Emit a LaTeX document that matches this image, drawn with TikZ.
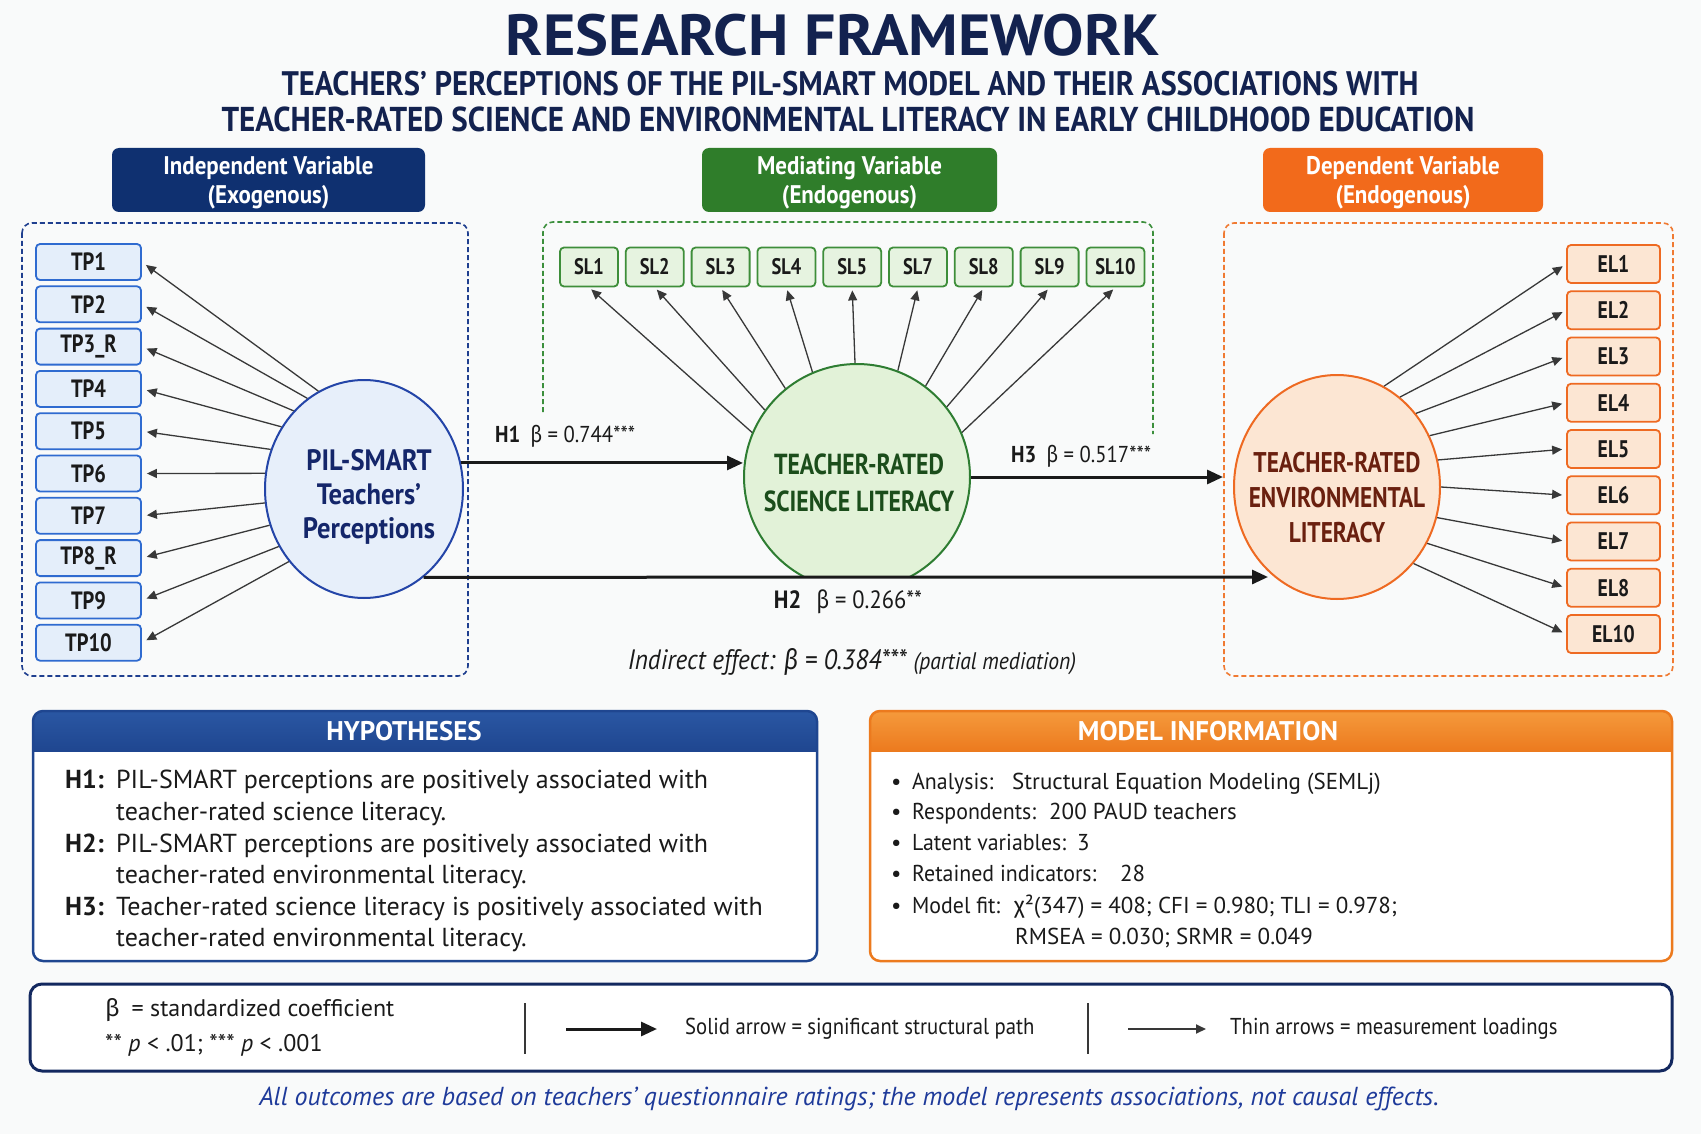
\documentclass[tikz,border=0pt]{standalone}
\usepackage{fontspec}
\setmainfont{PT Sans}
\newfontfamily\cnd{PT Sans}[FakeStretch=0.82]
\newfontfamily\cndm{PT Sans}[FakeStretch=0.9]
\newfontfamily\cndl{PT Sans}[FakeStretch=0.95]
\newfontfamily\wide{PT Sans}[FakeStretch=1.07]
\newfontfamily\grk{Fira Sans}
\newfontfamily\grkc{Fira Sans}[FakeStretch=0.85]
\usetikzlibrary{arrows.meta,shapes.geometric}
\newcommand{\fsz}[1]{\fontsize{#1}{#1}\selectfont}
\newcommand{\mybeta}{{\grkc β}}
\newcommand{\mybetaw}{{\grk β}}
\newcommand{\mychi}{{\grk χ}}
\definecolor{bg}{HTML}{F9FAFA}
\definecolor{navy}{HTML}{13224F}
\definecolor{indep}{HTML}{0F3070}
\definecolor{medg}{HTML}{2F7D2A}
\definecolor{depo}{HTML}{F26A1B}
\definecolor{indepd}{HTML}{1F3F8F}
\definecolor{medd}{HTML}{3C8F3C}
\definecolor{depd}{HTML}{F07A32}
\definecolor{tpb}{HTML}{2F6BD0}
\definecolor{tpf}{HTML}{E4EEFA}
\definecolor{pilb}{HTML}{2445A8}
\definecolor{pilf}{HTML}{E7EFFA}
\definecolor{pilt}{HTML}{14266A}
\definecolor{slb}{HTML}{3E8E3A}
\definecolor{slf}{HTML}{E6F3E0}
\definecolor{scb}{HTML}{2E7D32}
\definecolor{scf}{HTML}{E2F2D8}
\definecolor{sct}{HTML}{1B4D1B}
\definecolor{elb}{HTML}{EE6A22}
\definecolor{elf}{HTML}{FCE6D3}
\definecolor{ent}{HTML}{6A200F}
\definecolor{hypb}{HTML}{1F4690}
\definecolor{hypt}{HTML}{2A57A3}
\definecolor{modo}{HTML}{EC7A1E}
\definecolor{modt}{HTML}{F59A3C}
\definecolor{foot}{HTML}{1E3A9A}
\definecolor{arrc}{HTML}{383838}
\definecolor{txt}{HTML}{1A1A1A}
\definecolor{legb}{HTML}{13285F}
\tikzset{
  thinarr/.style={draw=arrc, line width=1.3pt, -{Triangle[length=10pt,width=9pt]}},
  structarr/.style={draw=txt, line width=3pt, -{Triangle[length=16pt,width=14pt]}},
  tpbox/.style={draw=tpb, fill=tpf, line width=1.8pt, rounded corners=4pt, minimum width=105pt, minimum height=36pt, inner sep=0pt, font=\cnd\bfseries\fsz{25}, text=txt},
  slbox/.style={draw=slb, fill=slf, line width=1.8pt, rounded corners=4pt, minimum width=58pt, minimum height=39pt, inner sep=0pt, font=\cnd\bfseries\fsz{22.5}, text=txt},
  elbox/.style={draw=elb, fill=elf, line width=1.8pt, rounded corners=4pt, minimum width=93pt, minimum height=38pt, inner sep=0pt, font=\cnd\bfseries\fsz{24}, text=txt},
  hdrbox/.style={rounded corners=7pt, minimum height=64pt, inner sep=0pt},
  hdrtxt/.style={text=white, align=center, inner sep=0pt, font=\cndm\bfseries\fontsize{25.5}{29}\selectfont},
  dashframe/.style={line width=1.6pt, dash pattern=on 5pt off 3pt, rounded corners=10pt},
  lbl/.style={font=\cndm\fsz{23}, text=txt, inner sep=0pt},
  hyp/.style={font=\fsz{26}, text=txt, anchor=base west, inner sep=0pt},
  mi/.style={font=\fsz{23}, text=txt, anchor=base west, inner sep=0pt},
  milab/.style={font=\cndl\fsz{23}, text=txt, anchor=base west, inner sep=0pt},
  leg/.style={font=\cndm\fsz{23}, text=txt, anchor=west, inner sep=0pt}
}
\begin{document}
\begin{tikzpicture}[x=1pt,y=-1pt]
\fill[bg] (0,0) rectangle (1701,1134);
\useasboundingbox (0,0) rectangle (1701,1134);

% ---------- title ----------
\node[font=\wide\bfseries\fsz{58}, text=navy] (title) at (833,35) {RESEARCH FRAMEWORK};
\node[font=\cndm\bfseries\fsz{34}, text=navy] (sub1) at (850,84) {TEACHERS’ PERCEPTIONS OF THE PIL-SMART MODEL AND THEIR ASSOCIATIONS WITH};
\node[font=\cndm\bfseries\fsz{34.5}, text=navy] (sub2) at (848,119) {TEACHER-RATED SCIENCE AND ENVIRONMENTAL LITERACY IN EARLY CHILDHOOD EDUCATION};

% ---------- header boxes ----------
\node[hdrbox, fill=indep, minimum width=313pt] (hind) at (268.5,180) {};
\node[hdrbox, fill=medg, minimum width=295pt] (hmed) at (849.5,180) {};
\node[hdrbox, fill=depo, minimum width=280pt] (hdep) at (1403,180) {};
\node[hdrtxt] (hindt) at ([yshift=-3pt]hind.center) {Independent Variable\\(Exogenous)};
\node[hdrtxt] (hmedt) at ([yshift=-3pt]hmed.center) {Mediating Variable\\(Endogenous)};
\node[hdrtxt] (hdept) at ([yshift=-3pt]hdep.center) {Dependent Variable\\(Endogenous)};

% ---------- dashed frames ----------
\draw[dashframe, draw=indepd] (22,223) rectangle (468,676);
\draw[dashframe, draw=medd] (543,412) -- (543,222) -- (1153,222) -- (1153,434);
\draw[dashframe, draw=depd] (1224,223) rectangle (1673,676);

% ---------- latent variables ----------
\node[ellipse, minimum width=198pt, minimum height=218pt, draw=pilb, fill=pilf, line width=2pt, inner sep=0pt] (pil) at (364,489) {};
\node[font=\cndm\bfseries\fontsize{29.5}{34}\selectfont, text=pilt, align=center] (piltxt) at (369,497) {PIL-SMART\\Teachers’\\Perceptions};

\begin{scope}
  \clip (700,300) rectangle (1000,577);
  \node[circle, minimum size=226pt, draw=scb, fill=scf, line width=2pt, inner sep=0pt] (sci) at (857,477) {};
\end{scope}
\node[font=\cnd\bfseries\fontsize{29}{37}\selectfont, text=sct, align=center] (scitxt) at (859,483) {TEACHER-RATED\\SCIENCE LITERACY};

\node[ellipse, minimum width=206pt, minimum height=224pt, draw=elb, fill=elf, line width=2pt, inner sep=0pt] (env) at (1337,487) {};
\node[font=\cnd\bfseries\fontsize{28.5}{35}\selectfont, text=ent, align=center] (envtxt) at (1337,498) {TEACHER-RATED\\ENVIRONMENTAL\\LITERACY};

% ---------- indicators ----------
\foreach \lab [count=\i] in {TP1,TP2,TP3\_R,TP4,TP5,TP6,TP7,TP8\_R,TP9,TP10}
  \node[tpbox] (tp\i) at (88.5,{262+42.3*(\i-1)}) {\lab};
\foreach \lab [count=\i] in {SL1,SL2,SL3,SL4,SL5,SL7,SL8,SL9,SL10}
  \node[slbox] (sl\i) at ({589+65.8*(\i-1)},267) {\lab};
\foreach \lab [count=\i] in {EL1,EL2,EL3,EL4,EL5,EL6,EL7,EL8,EL10}
  \node[elbox] (el\i) at (1613.5,{264+46.25*(\i-1)}) {\lab};

% ---------- measurement loadings ----------
\foreach \a [count=\i] in {115,122,132,143,157,171,188,201,214,224}
  \draw[thinarr, shorten >=5pt] (pil.\a) -- (tp\i.east);
\foreach \a [count=\i] in {157,144,129,113,91,69,53,38,23}
  \draw[thinarr, shorten >=3pt] (sci.\a) -- (sl\i.south);
\foreach \a [count=\i] in {65,55,43,29,15,0,-17,-32,-45}
  \draw[thinarr, shorten >=4pt] (env.\a) -- (el\i.west);

% ---------- structural paths ----------
\coordinate (h3end) at (1223,477);
\coordinate (h2end) at (1268,577);
\draw[structarr] (pil.15) -- (pil.15 -| sci.west);
\draw[structarr] (sci.east) -- (h3end);
\draw[structarr] (pil.-56) -- (h2end);

\node[lbl, anchor=west] (h1lab) at (495,436) {{\bfseries H1}\hspace{10pt}\mybeta\ = 0.744***};
\node[lbl, anchor=west] (h3lab) at (1011,456) {{\bfseries H3}\hspace{10pt}\mybeta\ = 0.517***};
\node[lbl, font=\cndm\fsz{25}] (h2lab) at (848,602) {{\bfseries H2}\hspace{15pt}\mybeta\ = 0.266**};
\node[text=txt, inner sep=0pt] (indir) at (852,662) {\cndm\itshape\fsz{28}Indirect effect: \mybeta\ = 0.384***\hspace{7pt}{\fsz{24}(partial mediation)}};

% ---------- hypotheses panel ----------
\fill[white, rounded corners=10pt] (33,711) rectangle (817,961);
\begin{scope}
  \clip[rounded corners=10pt] (33,711) rectangle (817,961);
  \shade[top color=hypt, bottom color=hypb] (33,711) rectangle (817,751);
\end{scope}
\draw[hypb, line width=2.5pt, rounded corners=10pt] (33,711) rectangle (817,961);
\node[font=\bfseries\fsz{27}, text=white] (hyptitle) at (404,731) {HYPOTHESES};
\node[hyp, font=\bfseries\fsz{26}] (hh1) at (65,788) {H1:};
\node[hyp] (ht1a) at (116,788) {PIL-SMART perceptions are positively associated with};
\node[hyp] (ht1b) at (116,820) {teacher-rated science literacy.};
\node[hyp, font=\bfseries\fsz{26}] (hh2) at (65,852) {H2:};
\node[hyp] (ht2a) at (116,852) {PIL-SMART perceptions are positively associated with};
\node[hyp] (ht2b) at (116,883) {teacher-rated environmental literacy.};
\node[hyp, font=\bfseries\fsz{26}] (hh3) at (65,915) {H3:};
\node[hyp] (ht3a) at (116,915) {Teacher-rated science literacy is positively associated with};
\node[hyp] (ht3b) at (116,946) {teacher-rated environmental literacy.};

% ---------- model information panel ----------
\fill[white, rounded corners=10pt] (870,711) rectangle (1672,961);
\begin{scope}
  \clip[rounded corners=10pt] (870,711) rectangle (1672,961);
  \shade[top color=modt, bottom color=modo] (870,711) rectangle (1672,751);
\end{scope}
\draw[modo, line width=2.5pt, rounded corners=10pt] (870,711) rectangle (1672,961);
\node[font=\bfseries\fsz{27}, text=white] (mtitle) at (1208,731) {MODEL INFORMATION};
\foreach \yy/\nm in {789/b1,819/b2,850/b3,881/b4,913/b5}
  \node[mi] (\nm) at (891,\yy) {•};
\node[milab] (ma1) at (912,789) {Analysis:};
\node[mi] (mv1) at (1012,789) {Structural Equation Modeling (SEMLj)};
\node[milab] (ma2) at (912,819) {Respondents:};
\node[mi] (mv2) at (1049,819) {200 PAUD teachers};
\node[milab] (ma3) at (912,850) {Latent variables:};
\node[mi] (mv3) at (1077,850) {3};
\node[milab] (ma4) at (912,881) {Retained indicators:};
\node[mi] (mv4) at (1120,881) {28};
\node[milab] (ma5) at (912,913) {Model fit:};
\node[mi] (mv5) at (1014,913) {\mychi²(347) = 408; CFI = 0.980; TLI = 0.978;};
\node[mi] (mv6) at (1015,944) {RMSEA = 0.030; SRMR = 0.049};

% ---------- legend ----------
\draw[legb, fill=white, line width=3pt, rounded corners=12pt] (30,984) rectangle (1672,1071);
\node[leg, font=\fsz{24}] (lg1) at (105,1010) {\mybetaw\hspace{12pt}= standardized coefficient};
\node[leg, font=\fsz{24}] (lg2) at (105,1045) {** \textit{p} < .01; *** \textit{p} < .001};
\draw[arrc, line width=1.5pt] (525,1003) -- (525,1054);
\draw[arrc, line width=1.5pt] (1088,1003) -- (1088,1054);
\coordinate (la1) at (566,1029);
\coordinate (lb1) at (657,1029);
\draw[structarr] (la1) -- (lb1);
\node[leg] (lg3) at (685,1029) {Solid arrow = significant structural path};
\coordinate (la2) at (1128,1029);
\coordinate (lb2) at (1206,1029);
\draw[thinarr, line width=1.8pt] (la2) -- (lb2);
\node[leg] (lg4) at (1230,1029) {Thin arrows = measurement loadings};

% ---------- footer ----------
\node[font=\itshape\fsz{26}, text=foot] (foot) at (849,1099) {All outcomes are based on teachers’ questionnaire ratings; the model represents associations, not causal effects.};
\end{tikzpicture}
\end{document}
